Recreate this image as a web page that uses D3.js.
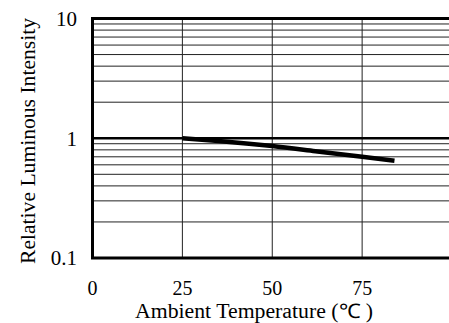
<!DOCTYPE html>
<html>
<head>
<meta charset="utf-8">
<script src="https://cdn.jsdelivr.net/npm/d3@7"></script>
<style>
  body { margin: 0; background: #fff; }
  text { font-family: "Liberation Serif", "Times New Roman", serif; fill: #000; }
</style>
</head>
<body>
<div id="app"></div>
<script>
// curve
const temps = [25, 35, 50, 62, 75, 84]
const intensity = [1.0, 0.95, 0.86, 0.78, 0.70, 0.65]

const xTicks = [0, 25, 50, 75]
const yTicks = [0.1, 1, 10]
const yTickLabels = ["0.1", "1", "10"]
const xTitle = "Ambient Temperature (\u2103 )"
const yTitle = "Relative Luminous Intensity"

const W = 449, H = 323

const svg = d3.select("#app")
  .append("svg")
    .attr("width", W)
    .attr("height", H)

const x = d3.scaleLinear().domain([0, 100]).range([92.5, 452])
const y = d3.scaleLog().domain([0.1, 10]).range([258, 18.5])

// minor grid for each decade
const minor = []
for (const d of [0.1, 1]) for (let k = 2; k <= 9; k++) minor.push(d * k)

const grid = svg.append("g")
grid.selectAll("line.minor")
  .data(minor)
  .join("line")
    .attr("class", "minor")
    .attr("x1", x(0)).attr("x2", W)
    .attr("y1", d => y(d)).attr("y2", d => y(d))
    .attr("stroke", "#222")
    .attr("stroke-width", 1)

grid.selectAll("line.vert")
  .data(xTicks.filter(d => d > 0))
  .join("line")
    .attr("class", "vert")
    .attr("x1", d => x(d)).attr("x2", d => x(d))
    .attr("y1", y(10)).attr("y2", y(0.1))
    .attr("stroke", "#222")
    .attr("stroke-width", 1)

// heavy line at 1
grid.append("line")
    .attr("x1", x(0)).attr("x2", W)
    .attr("y1", y(1)).attr("y2", y(1))
    .attr("stroke", "#000")
    .attr("stroke-width", 2.5)

// frame: top, left, bottom
grid.append("path")
    .attr("d", `M${W},${y(10)}H${x(0)}V${y(0.1)}H${W}`)
    .attr("fill", "none")
    .attr("stroke", "#000")
    .attr("stroke-width", 3)

const pts = temps.map((t, i) => [t, intensity[i]])
svg.append("path")
    .datum(pts)
    .attr("fill", "none")
    .attr("stroke", "#000")
    .attr("stroke-width", 4.5)
    .attr("stroke-linecap", "butt")
    .attr("d", d3.line()
      .x(d => x(d[0]))
      .y(d => y(d[1]))
      .curve(d3.curveMonotoneX))

svg.append("g")
  .selectAll("text")
  .data(xTicks)
  .join("text")
    .attr("x", d => x(d))
    .attr("y", 295)
    .attr("text-anchor", "middle")
    .attr("font-size", 20)
    .text(d => d)

svg.append("g")
  .selectAll("text")
  .data(yTicks)
  .join("text")
    .attr("x", 77)
    .attr("y", d => y(d))
    .attr("dy", "0.35em")
    .attr("text-anchor", "end")
    .attr("font-size", 21)
    .text((d, i) => yTickLabels[i])

svg.append("text")
    .attr("x", 254)
    .attr("y", 318)
    .attr("text-anchor", "middle")
    .attr("font-size", 20)
    .attr("textLength", 238)
    .attr("lengthAdjust", "spacingAndGlyphs")
    .text(xTitle)

svg.append("text")
    .attr("transform", `translate(35,141) rotate(-90)`)
    .attr("text-anchor", "middle")
    .attr("font-size", 21)
    .attr("textLength", 246)
    .attr("lengthAdjust", "spacingAndGlyphs")
    .text(yTitle)
</script>
</body>
</html>
